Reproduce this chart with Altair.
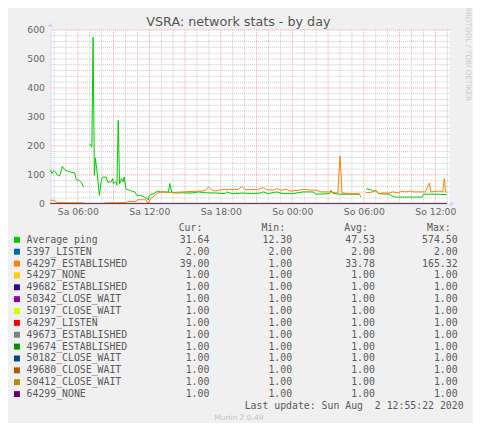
import altair as alt
import pandas as pd

# ---------------- data ----------------
TITLE = "VSRA: network stats - by day"

# x in hours since Saturday 00:00, None marks a gap in the series
ping_hours = [3.70, 3.83, 4.00, 4.33, 4.48, 4.70, 4.89, 5.12, 5.31, 5.73, 5.87, 6.14, 6.28, 6.50,
              6.75,
              7.00, 7.12, 7.18, 7.28, 7.39, 7.48, 7.58, 7.81, 7.95, 8.08, 8.37, 8.50, 8.78, 8.92,
              8.97, 9.20, 9.28, 9.39, 9.50, 9.67, 9.78, 9.89, 10.03, 10.31, 10.58, 10.78, 10.95,
              11.28, 11.56, 11.83, 11.93, 11.97, 12.12, 12.39, 12.67, 12.95, 13.37, 13.60, 13.72,
              13.87, 14.20, 14.75, 15.58, 16.14, 16.70, 17.53, 18.36, 18.50, 18.92, 19.92, 20.47,
              20.72, 21.28, 21.56, 21.97, 22.67, 23.22, 24.06, 24.89, 25.72, 26.00, 27.12, 27.25,
              27.40, 27.95, 28.78, 29.62,
              29.90,
              30.17, 30.58, 30.72, 31.00, 31.22, 32.12, 32.39, 32.67, 34.89, 35.03, 36.14, 36.97]
ping_values = [118, 104, 115, 98, 96, 129, 118, 113, 110, 107, 83, 81, 75, 57,
               None,
               207, 200, 195, 574.5, 98, 157, 122, 29, 75, 92, 92, 75, 75, 87,
               70, 75, 64, 288, 69, 87, 75, 92, 52, 47, 43, 41, 29,
               29, 23, 18, 12.3, 26, 33, 35, 44, 41, 41, 40, 70,
               41, 37, 38, 37, 41, 38, 37, 35, 41, 35, 37, 35,
               35, 37, 41, 35, 41, 35, 35, 41, 41, 33, 35, 47,
               36, 33, 33, 33,
               None,
               52, 49, 44, 44, 35, 33, 26, 23, 23, 33, 33, 31.64]

est_hours = [3.70, 4.06, 4.19, 4.33, 6.50,
             7.30,
             8.23, 10.03, 10.17, 10.87, 11.00, 11.70, 11.89, 12.12, 12.39, 12.67, 13.08, 13.92,
             14.75, 16.42, 16.72, 16.97, 17.25, 17.53, 18.08, 18.64, 19.47, 19.75, 20.03, 21.14,
             21.56, 21.83, 22.39, 22.67, 23.08, 23.50, 23.78, 24.62, 24.89, 25.58, 26.00, 26.42,
             27.12, 27.81, 28.00, 28.17, 28.78, 29.62, 29.75,
             29.95,
             30.17, 30.58, 31.00, 31.28, 31.56, 32.12, 32.39, 32.95, 33.08, 33.50, 33.92, 34.20,
             34.62, 35.17, 35.50, 35.62, 36.28, 36.62, 36.75, 36.87, 36.97]
est_values = [12, 12, 6, 4, 3,
              None,
              3, 4, 8, 8, 14, 14, 1, 18, 26, 37, 41, 38,
              41, 44, 46, 58, 47, 44, 49, 49, 49, 60, 49, 49,
              56, 49, 47, 52, 47, 50, 44, 47, 50, 47, 47, 41,
              41, 37, 165.32, 37, 35, 35, 23,
              None,
              39, 39, 47, 35, 37, 37, 41, 37, 44, 41, 44, 41,
              41, 41, 72, 41, 44, 41, 87, 41, 39]

legend_names = ["Average ping", "5397_LISTEN", "64297_ESTABLISHED", "54297_NONE",
                "49682_ESTABLISHED", "50342_CLOSE_WAIT", "50197_CLOSE_WAIT", "64297_LISTEN",
                "49673_ESTABLISHED", "49674_ESTABLISHED", "50182_CLOSE_WAIT", "49680_CLOSE_WAIT",
                "50412_CLOSE_WAIT", "64299_NONE"]
legend_colors = ["#00CC00", "#0066B3", "#FF8000", "#FFCC00", "#330099", "#990099", "#CCFF00",
                 "#FF0000", "#808080", "#008F00", "#00487D", "#B35A00", "#B38F00", "#6B006B"]
cur_vals = [31.64, 2.00, 39.00, 1, 1, 1, 1, 1, 1, 1, 1, 1, 1, 1]
min_vals = [12.30, 2.00, 1.00, 1, 1, 1, 1, 1, 1, 1, 1, 1, 1, 1]
avg_vals = [47.53, 2.00, 33.78, 1, 1, 1, 1, 1, 1, 1, 1, 1, 1, 1]
max_vals = [574.50, 2.00, 165.32, 1, 1, 1, 1, 1, 1, 1, 1, 1, 1, 1]
stat_headers = ["Cur:", "Min:", "Avg:", "Max:"]

tick_hours = [6, 12, 18, 24, 30, 36]
tick_labels = ["Sa 06:00", "Sa 12:00", "Sa 18:00", "So 00:00", "So 06:00", "So 12:00"]
y_ticks = [0, 100, 200, 300, 400, 500, 600]

last_update = "Last update: Sun Aug\u00a0 2 12:55:22 2020"
version_text = "Munin 2.0.49"
side_text = "RRDTOOL / TOBI OETIKER"

data_start, data_end = 3.70, 36.97

# ---------------- helpers ----------------
def series_frame(hours, values):
    rows, seg = [], 0
    for h, v in zip(hours, values):
        if v is None:
            seg += 1
            continue
        rows.append({"h": h, "v": v, "seg": seg})
    return pd.DataFrame(rows)

X_DOMAIN = [3.7, 37.2]
xs = alt.Scale(domain=X_DOMAIN, nice=False, zero=False)
ys = alt.Scale(domain=[0, 600], nice=False, zero=False)

FONT = "DejaVu Sans"
MONO = "DejaVu Sans Mono"
TXT = "#5a5a5a"

label_expr = "".join(f"datum.value == {h} ? '{l}' : " for h, l in zip(tick_hours, tick_labels)) + "''"

# grids
minor_v = pd.DataFrame({"h": [h for h in range(4, 38) if h % 3 != 0]})
major_v = pd.DataFrame({"h": list(range(6, 37, 3))})
minor_h = pd.DataFrame({"v": [v for v in range(20, 600, 20) if v % 100]})
major_h = pd.DataFrame({"v": list(range(100, 601, 100))})

GRID_MINOR = "#c8c8c8"
GRID_MAJOR = "#f0a4a4"
g1 = alt.Chart(minor_v).mark_rule(color=GRID_MINOR, strokeDash=[1, 1], strokeWidth=1).encode(
    x=alt.X("h:Q", scale=xs, axis=None))
g2 = alt.Chart(minor_h).mark_rule(color=GRID_MINOR, strokeDash=[1, 1], strokeWidth=1).encode(
    y=alt.Y("v:Q", scale=ys, axis=None))
g3 = alt.Chart(major_v).mark_rule(color=GRID_MAJOR, strokeDash=[1, 1], strokeWidth=1).encode(
    x=alt.X("h:Q", scale=xs, axis=None))
g4 = alt.Chart(major_h).mark_rule(color=GRID_MAJOR, strokeDash=[1, 1], strokeWidth=1).encode(
    y=alt.Y("v:Q", scale=ys, axis=None))

x_axis = alt.Axis(values=tick_hours, labelExpr=label_expr, grid=False, ticks=False,
                  domainColor="#CFD6F8", domainWidth=1, labelFont=FONT, labelFontSize=9.3,
                  labelColor="#666666", labelPadding=4, title=None, labelFlush=False)
y_axis = alt.Axis(values=y_ticks, grid=False, ticks=False, domainColor="#CFD6F8",
                  labelFont=FONT, labelFontSize=9.3, labelColor="#666666", labelPadding=6,
                  title=None)

layers = [g1, g2, g3, g4]

for i, name in enumerate(legend_names):
    if i == 0:
        df = series_frame(ping_hours, ping_values)
    elif i == 2:
        df = series_frame(est_hours, est_values)
    else:
        df = series_frame([data_start, data_end], [cur_vals[i], cur_vals[i]])
    first = (i == 0)
    flat = i not in (0, 2)
    layers.append(
        alt.Chart(df).mark_line(strokeWidth=1, color=legend_colors[i],
                                opacity=0.5 if flat else 1).encode(
            x=alt.X("h:Q", scale=xs, axis=x_axis if first else None),
            y=alt.Y("v:Q", scale=ys, axis=y_axis if first else None),
            detail="seg:N",
        )
    )

# axis arrows
arrow_up = pd.DataFrame({"h": [X_DOMAIN[0]], "v": [618]})
arrow_right = pd.DataFrame({"h": [37.42], "v": [0]})
layers.append(alt.Chart(arrow_up).mark_point(
    shape="triangle-up", filled=True, size=28, color="#CFD6F8", opacity=1).encode(
    x=alt.X("h:Q", scale=xs, axis=None), y=alt.Y("v:Q", scale=ys, axis=None)))
layers.append(alt.Chart(arrow_right).mark_point(
    shape="triangle-right", filled=True, size=28, color="#CFD6F8", opacity=1).encode(
    x=alt.X("h:Q", scale=xs, axis=None), y=alt.Y("v:Q", scale=ys, axis=None)))

# title and side credit
layers.append(alt.Chart(pd.DataFrame({"t": [TITLE]})).mark_text(
    font=FONT, fontSize=12.8, color="#555555", align="center", baseline="alphabetic").encode(
    x=alt.value(189.3), y=alt.value(-3.8), text="t:N"))
layers.append(alt.Chart(pd.DataFrame({"t": [side_text]})).mark_text(
    font=FONT, fontSize=7.4, color="#cccccc", align="left", baseline="middle", angle=90).encode(
    x=alt.value(420.8), y=alt.value(-23.5), text="t:N"))

# ---------------- legend table ----------------
ry = alt.Scale(domain=[0, 13], range=[211.3, 366.6], nice=False, zero=False)
cx = alt.Scale(domain=[1, 4], range=[160.0, 410.0], nice=False, zero=False)

leg_df = pd.DataFrame({"row": list(range(len(legend_names))), "name": legend_names,
                       "color": legend_colors})
stat_rows = []
for i in range(len(legend_names)):
    for c, arr in enumerate([cur_vals, min_vals, avg_vals, max_vals], start=1):
        stat_rows.append({"row": i, "col": c, "txt": f"{arr[i]:.2f}"})
stat_df = pd.DataFrame(stat_rows)
head_df = pd.DataFrame({"row": [-1] * 4, "col": [1, 2, 3, 4], "txt": stat_headers})
upd_df = pd.DataFrame({"row": [14], "col": [4], "txt": [last_update]})
ver_df = pd.DataFrame({"row": [15], "txt": [version_text]})

sw = alt.Chart(leg_df).mark_square(size=36, filled=True, opacity=1).encode(
    x=alt.value(-33.7), y=alt.Y("row:Q", scale=ry, axis=None),
    color=alt.Color("color:N", scale=None))
nm = alt.Chart(leg_df).mark_text(font=MONO, fontSize=9.9, color=TXT, align="left",
                                 baseline="middle").encode(
    x=alt.value(-24.0), y=alt.Y("row:Q", scale=ry, axis=None), text="name:N")
st = alt.Chart(stat_df).mark_text(font=MONO, fontSize=9.9, color=TXT, align="right",
                                  baseline="middle").encode(
    x=alt.X("col:Q", scale=cx, axis=None), y=alt.Y("row:Q", scale=ry, axis=None), text="txt:N")
hd = alt.Chart(head_df).mark_text(font=MONO, fontSize=9.9, color=TXT, align="right",
                                  baseline="middle", dx=-7).encode(
    x=alt.X("col:Q", scale=cx, axis=None), y=alt.Y("row:Q", scale=ry, axis=None), text="txt:N")
up = alt.Chart(upd_df).mark_text(font=MONO, fontSize=9.9, color=TXT, align="right",
                                 baseline="middle", dx=6).encode(
    x=alt.X("col:Q", scale=cx, axis=None), y=alt.Y("row:Q", scale=ry, axis=None), text="txt:N")
vr = alt.Chart(ver_df).mark_text(font=FONT, fontSize=7.6, color="#c4c4c4", align="center",
                                 baseline="middle").encode(
    x=alt.value(189.8), y=alt.Y("row:Q", scale=ry, axis=None), text="txt:N")

layers += [sw, nm, st, hd, up, vr]

chart = alt.layer(*layers).resolve_scale(x="independent", y="independent").properties(
    width=402, height=175,
    autosize=alt.AutoSizeParams(type="none"),
    padding={"left": 42.7, "top": 20.7, "right": 23.5, "bottom": 219.3},
    background="#F0F0F0",
).configure_view(fill="white", stroke=None)

chart.save("out.html", embed_options={"renderer": "svg", "actions": False})
